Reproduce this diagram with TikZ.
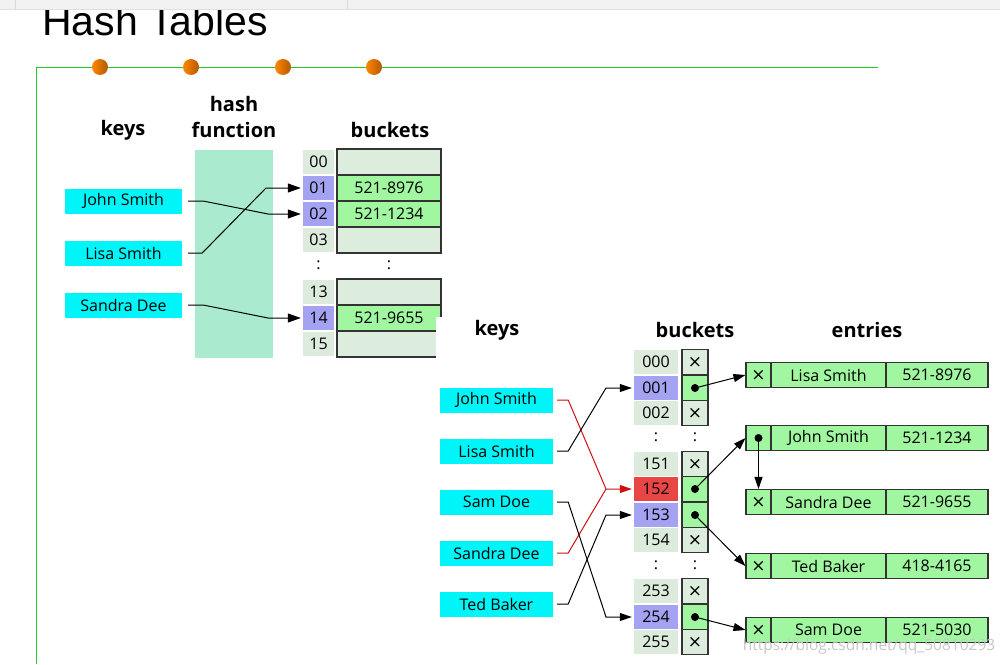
\documentclass[tikz,border=0pt]{standalone}
\usepackage{fontspec}
\setmainfont{Open Sans}
\newfontfamily\titlefont{Liberation Sans}
\newfontfamily\xfont{DejaVu Sans}
\usetikzlibrary{arrows.meta}
\definecolor{keycyan}{HTML}{00F5F8}
\definecolor{hashgreen}{HTML}{AAEBD0}
\definecolor{idxgray}{HTML}{DCEBDC}
\definecolor{idxblue}{HTML}{A3A3F2}
\definecolor{idxred}{HTML}{E84545}
\definecolor{valgreen}{HTML}{A0F7A0}
\definecolor{valempty}{HTML}{DDEDDD}
\definecolor{linegreen}{HTML}{22CC22}
\definecolor{redline}{HTML}{D01010}
\tikzset{
  txt/.style={font=\fontsize{16}{19}\selectfont},
  xmark/.style={font=\fontsize{17}{18}\selectfont\xfont},
  head/.style={font=\fontsize{20}{23}\selectfont\bfseries},
  key/.style={txt, fill=keycyan, inner sep=0, minimum height=25},
  lkey/.style={key, minimum width=117},
  rkey/.style={key, minimum width=113},
  lidx/.style={txt, fill=idxgray, inner sep=0, minimum width=31, minimum height=24},
  lval/.style={txt, fill=valempty, draw=black!80, line width=1.2pt, inner sep=0, minimum width=104, minimum height=26},
  ridx/.style={txt, fill=idxgray, inner sep=0, minimum width=44, minimum height=23.5},
  rptr/.style={xmark, fill=valempty, draw=black!80, line width=1.1pt, inner sep=0, minimum width=26, minimum height=25.5},
  ecell/.style={txt, fill=valgreen, draw=black!80, line width=1.1pt, inner sep=0, minimum height=25},
  dotc/.style={circle, fill=black, inner sep=0, minimum size=8},
  larr/.style={line width=1pt, -{Triangle[length=13pt,width=9pt]}},
  rarr/.style={line width=1pt, -{Triangle[length=12pt,width=8pt]}},
  ball/.style={circle, inner sep=0, minimum size=16, left color=orange!95!yellow, right color=orange!70!black},
}
\begin{document}
\begin{tikzpicture}[x=1pt,y=-1pt]
\useasboundingbox (0,0) rectangle (1000,664);
\fill[white] (0,0) rectangle (1000,664);
% title
\node[anchor=base west, inner sep=0, font=\fontsize{41}{46}\selectfont\titlefont] (title) at (42,35) {Hash Tables};
% top bar
\fill[black!5] (0,0) rectangle (1000,9);
\draw[black!12] (0,9) -- (1000,9);
\draw[black!15] (15,0) -- (15,9);
\draw[black!15] (347,0) -- (347,9);
% green frame
\draw[linegreen, line width=1pt] (878,67) -- (36,67) -- (36,664);
\foreach \x/\n in {100/b1,191/b2,283/b3,374/b4} \node[ball] (\n) at (\x,67) {};

% ===== left diagram =====
\node[head] (lkeys) at (123,130) {keys};
\node[head] (lhash) at (234,104) {hash};
\node[head] (lfun) at (234,130) {function};
\node[head] (lbuck) at (390,130) {buckets};
\fill[hashgreen] (195,150) rectangle (273,358);
\node[lkey] (lk1) at (123.5,201) {John Smith};
\node[lkey] (lk2) at (123.5,253) {Lisa Smith};
\node[lkey] (lk3) at (123.5,305) {Sandra Dee};

\node[lidx] (li00) at (318.5,162) {00};
\node[lidx, fill=idxblue] (li01) at (318.5,188) {01};
\node[lidx, fill=idxblue] (li02) at (318.5,214) {02};
\node[lidx] (li03) at (318.5,240) {03};
\node[txt] (lic1) at (318.5,265) {:};
\node[lidx] (li13) at (318.5,292) {13};
\node[lidx, fill=idxblue] (li14) at (318.5,318) {14};
\node[lidx] (li15) at (318.5,344) {15};

\node[lval] (lv00) at (389,162) {};
\node[lval, fill=valgreen] (lv01) at (389,188) {521-8976};
\node[lval, fill=valgreen] (lv02) at (389,214) {521-1234};
\node[lval] (lv03) at (389,240) {};
\node[txt] (lvc1) at (389,265) {:};
\node[lval] (lv13) at (389,292) {};
\node[lval, fill=valgreen] (lv14) at (389,318) {521-9655};
\node[lval] (lv15) at (389,344) {};

\draw[larr] ([xshift=6]lk1.east) -- ++(15,0) -- (268,214) -- ([xshift=-2]li02.west);
\draw[larr] ([xshift=6]lk2.east) -- ++(14,0) -- (266,188) -- ([xshift=-2]li01.west);
\draw[larr] ([xshift=6]lk3.east) -- ++(15,0) -- (268,318) -- ([xshift=-2]li14.west);

% white overlay of the second picture
\fill[white] (436,317) rectangle (1000,664);

% ===== right diagram =====
\node[head] (rkeys) at (497,330) {keys};
\node[head] (rbuck) at (695,330) {buckets};
\node[head] (rent) at (867,330) {entries};

\node[rkey] (rk1) at (496.5,400) {John Smith};
\node[rkey] (rk2) at (496.5,451) {Lisa Smith};
\node[rkey] (rk3) at (496.5,502) {Sam Doe};
\node[rkey] (rk4) at (496.5,553) {Sandra Dee};
\node[rkey] (rk5) at (496.5,604) {Ted Baker};

\node[ridx] (ri000) at (656,362) {000};
\node[ridx, fill=idxblue] (ri001) at (656,388) {001};
\node[ridx] (ri002) at (656,413) {002};
\node[txt] (ric1) at (656,437) {:};
\node[ridx] (ri151) at (656,464) {151};
\node[ridx, fill=idxred] (ri152) at (656,489) {152};
\node[ridx, fill=idxblue] (ri153) at (656,515) {153};
\node[ridx] (ri154) at (656,540) {154};
\node[txt] (ric2) at (656,565) {:};
\node[ridx] (ri253) at (656,591) {253};
\node[ridx, fill=idxblue] (ri254) at (656,617) {254};
\node[ridx] (ri255) at (656,642) {255};

\node[rptr] (rp000) at (695,362) {×};
\node[rptr, fill=valgreen] (rp001) at (695,388) {};
\node[rptr] (rp002) at (695,413) {×};
\node[txt] (rpc1) at (695,437) {:};
\node[rptr] (rp151) at (695,464) {×};
\node[rptr, fill=valgreen] (rp152) at (695,489) {};
\node[rptr, fill=valgreen] (rp153) at (695,515) {};
\node[rptr] (rp154) at (695,540) {×};
\node[txt] (rpc2) at (695,565) {:};
\node[rptr] (rp253) at (695,591) {×};
\node[rptr, fill=valgreen] (rp254) at (695,617) {};
\node[rptr] (rp255) at (695,642) {×};
\node[dotc] (d001) at (rp001) {};
\node[dotc] (d152) at (rp152) {};
\node[dotc] (d153) at (rp153) {};
\node[dotc] (d254) at (rp254) {};

% entries
\foreach \n/\y/\p/\name/\num in {e1/375/×/Lisa Smith/521-8976, e2/438//John Smith/521-1234, e3/502/×/Sandra Dee/521-9655, e4/566/×/Ted Baker/418-4165, e5/630/×/Sam Doe/521-5030}{
  \node[ecell, minimum width=25, xmark] (\n a) at (758.5,\y) {\p};
  \node[ecell, minimum width=115] (\n b) at (828.5,\y) {\name};
  \node[ecell, minimum width=102] (\n c) at (937,\y) {\num};
}
\node[dotc] (de2) at (e2a) {};

% key -> bucket arrows
\draw[rarr, redline] ([xshift=4]rk1.east) -- ++(11,0) -- (606,489) -- ([xshift=-2]ri152.west);
\draw[redline, line width=1pt] ([xshift=4]rk4.east) -- ++(11,0) -- (606,489);
\draw[rarr] ([xshift=4]rk2.east) -- ++(11,0) -- (606,388) -- ([xshift=-2]ri001.west);
\draw[rarr] ([xshift=4]rk3.east) -- ++(11,0) -- (606,617) -- ([xshift=-2]ri254.west);
\draw[rarr] ([xshift=4]rk5.east) -- ++(11,0) -- (606,515) -- ([xshift=-2]ri153.west);

% bucket -> entry arrows
\draw[rarr] (d001.center) -- (e1a.west);
\draw[rarr] (d152.center) -- (e2a.west);
\draw[rarr] (d153.center) -- (e4a.west);
\draw[rarr] (d254.center) -- (e5a.west);
\draw[rarr] (de2.center) -- (e3a.north);

% watermark
\node[font=\fontsize{15.5}{18}\selectfont, text=black!22, anchor=base] (wm) at (869,650) {https://blog.csdn.net/qq\_50810293};
\end{tikzpicture}
\end{document}
